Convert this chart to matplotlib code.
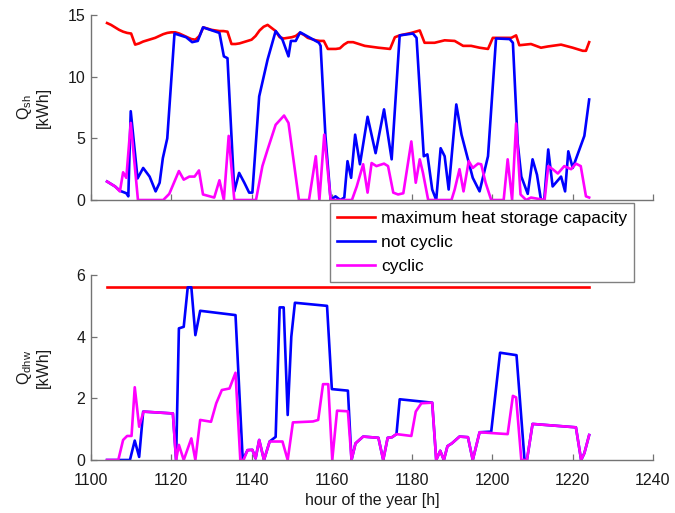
import matplotlib
matplotlib.use("Agg")
import matplotlib.pyplot as plt

plt.rcParams["font.family"] = ["Liberation Sans", "DejaVu Sans"]
plt.rcParams["mathtext.default"] = "regular"

# ---- space heating demand Q_sh [kWh] ----
sh_cap_hours = [1104, 1105, 1106, 1107, 1108, 1109, 1110, 1111, 1112, 1113, 1114, 1115,
                1116, 1117, 1118, 1119, 1120, 1121, 1122, 1123, 1124, 1125, 1126, 1127,
                1128, 1129, 1130, 1131, 1132, 1133, 1134, 1135, 1136, 1137, 1138, 1139,
                1140, 1141, 1142, 1143, 1144, 1145, 1146, 1147, 1148, 1149, 1150, 1151,
                1152, 1153, 1154, 1155, 1156, 1157, 1158, 1159, 1160, 1161, 1162, 1163,
                1164, 1165.3, 1168.2, 1171.6, 1174.5, 1175.7, 1176.9, 1179.8, 1181.9,
                1183.1, 1185.6, 1188.1, 1190.6, 1192.7, 1194.7, 1196.8, 1198.9, 1200.1,
                1204.7, 1205.9, 1206.7, 1209.6, 1212.1, 1213.8, 1217.1, 1220.0, 1222.5,
                1223.3, 1224.1]
sh_cap = [14.35, 14.2, 14.0, 13.8, 13.65, 13.55, 13.5, 12.6, 12.7, 12.85, 12.95, 13.05,
          13.15, 13.3, 13.45, 13.55, 13.6, 13.6, 13.5, 13.35, 13.2, 13.05, 13.0, 13.3,
          14.0, 13.9, 13.8, 13.75, 13.7, 13.7, 13.65, 12.65, 12.65, 12.7, 12.8, 12.9,
          13.0, 13.3, 13.75, 14.05, 14.2, 13.95, 13.7, 13.2, 13.1, 13.15, 13.2, 13.3,
          13.55, 13.4, 13.15, 13.05, 12.95, 12.9, 12.9, 12.25, 12.25, 12.25, 12.3, 12.6,
          12.8, 12.8, 12.5, 12.35, 12.25, 13.2, 13.35, 13.55, 13.75,
          12.75, 12.75, 12.95, 12.9, 12.5, 12.5, 12.35, 12.25, 13.15,
          13.15, 13.35, 12.55, 12.65, 12.35, 12.45, 12.6, 12.35, 12.1,
          12.1, 12.8]

sh_nc_hours = [1104, 1106, 1107.2, 1108.8, 1109.3, 1109.9, 1111.6, 1113, 1114.6, 1116.1,
               1117.1, 1117.9, 1119, 1120.8, 1123.7, 1125.2, 1126.6, 1127.9, 1132, 1133.1,
               1134, 1135.7, 1136.9, 1138.2, 1139.4, 1140.2, 1141.9, 1144, 1146, 1147.7,
               1149.2, 1149.8, 1151, 1152.1, 1156.8, 1157.2, 1158.4, 1159.7, 1160.9,
               1162.1, 1163.1, 1163.9, 1164.8, 1165.8, 1167, 1168.9, 1170.9, 1173,
               1174.9, 1176.9, 1180.2, 1181.1, 1182.9, 1183.8, 1185, 1186, 1187.1,
               1188.1, 1189.1, 1191, 1192.3, 1193.9, 1195.1, 1196.8, 1198.9, 1200.9,
               1204.3, 1205.1, 1206.3, 1207.2, 1208.8, 1210, 1211.1, 1212.1, 1212.9,
               1213.9, 1215, 1217.1, 1218.1, 1218.9, 1220, 1222.9, 1224.1]
sh_nc = [1.5, 1.1, 0.75, 0.55, 0.3, 7.2, 1.75, 2.6, 1.9, 0.7,
         1.4, 3.4, 5.0, 13.5, 13.2, 12.8, 12.9, 14.0, 13.55, 11.65,
         11.5, 0.7, 2.2, 1.4, 0.6, 0.6, 8.4, 11.4, 13.7, 13.0,
         11.65, 12.9, 12.9, 13.6, 12.75, 12.5, 5.2, 0.0, 0.3,
         0.0, 0.2, 3.15, 1.8, 5.3, 2.9, 6.75, 3.8, 7.35,
         3.3, 13.35, 13.5, 13.15, 3.55, 3.7, 0.85, 0.0, 4.2,
         3.55, 0.85, 7.75, 5.3, 3.3, 1.8, 0.7, 3.55, 13.1,
         13.05, 12.75, 4.6, 1.9, 0.5, 3.3, 2.05, 0.0, 0.0,
         4.1, 1.1, 1.9, 0.7, 3.95, 2.6, 5.2, 8.15]

sh_cy_hours = [1104, 1106, 1107.2, 1108, 1108.8, 1109.9, 1111.7, 1118, 1119.5, 1121.9,
               1123.1, 1124.5, 1125.8, 1126.9, 1127.9, 1130.7, 1132, 1133.1, 1134.3,
               1135.7, 1141.1, 1142.7, 1144, 1146, 1148.1, 1149.2, 1151.8, 1154.3, 1156,
               1156.9, 1158.1, 1159.7, 1165, 1166.2, 1167.8, 1168.9, 1169.9, 1171.1,
               1173, 1174, 1175.3, 1176.5, 1177.8, 1179.8, 1180.9, 1181.9, 1182.7, 1184,
               1189.8, 1190.6, 1191.8, 1192.8, 1194.1, 1195.1, 1196.4, 1197.2, 1198.3,
               1199.7, 1202.8, 1203.8, 1204.9, 1205.9, 1207, 1208.4, 1209.6, 1213,
               1213.9, 1215, 1216.3, 1217.9, 1219.6, 1220.8, 1222, 1223.3, 1224.1]
sh_cy = [1.5, 1.1, 0.7, 2.25, 1.8, 6.25, 0.0, 0.0, 0.5, 2.35,
         1.65, 1.9, 1.9, 2.4, 0.45, 0.2, 1.6, 0.0, 5.2,
         0.0, 0.0, 2.75, 4.1, 6.1, 6.85, 6.25, 0.0, 0.0, 3.55,
         0.0, 5.3, 0.0, 0.0, 1.1, 2.9, 0.6, 3.0, 2.75,
         2.95, 2.75, 0.6, 0.45, 0.55, 4.75, 1.4, 3.3, 2.2, 0.0,
         0.0, 0.85, 2.5, 0.7, 3.15, 2.6, 2.95, 2.9, 1.4,
         0.0, 0.0, 3.3, 0.0, 6.2, 0.45, 0.0, 0.2, 0.0,
         2.75, 2.5, 2.15, 2.75, 2.5, 2.95, 2.75, 0.3, 0.2]

# ---- domestic hot water demand Q_dhw [kWh] ----
dhw_cap_hours = [1104, 1224]
dhw_cap = [5.6, 5.6]

dhw_nc_hours = [1104, 1109.7, 1110.9, 1112, 1113, 1120.4, 1121.2, 1121.9, 1123.1, 1124.1,
                1125, 1126, 1127.2, 1136, 1137.8, 1139, 1140.2, 1141, 1141.9, 1143.1,
                1144.5, 1146, 1147, 1148, 1149, 1149.9, 1150.8, 1158.8, 1160, 1164,
                1164.9, 1165.9, 1167.8, 1171.6, 1172.8, 1173.9, 1175, 1176.1, 1176.9,
                1185, 1186, 1187, 1187.9, 1188.8, 1189.9, 1191.8, 1193.9, 1195.1, 1196.8,
                1199.7, 1201.9, 1206, 1208, 1208.6, 1210, 1220.8, 1222.1, 1222.9, 1224.1]
dhw_nc = [0.0, 0.0, 0.63, 0.1, 1.57, 1.51, 0.0, 4.27, 4.32, 5.6,
          5.6, 4.05, 4.84, 4.7, 0.0, 0.32, 0.33, 0.05, 0.65, 0.0,
          0.6, 0.75, 4.95, 4.95, 1.46, 4.0, 5.1, 5.0, 2.3, 2.25,
          0.0, 0.54, 0.76, 0.72, 0.0, 0.72, 0.74, 0.84, 1.97,
          1.86, 0.0, 0.3, 0.0, 0.45, 0.54, 0.76, 0.74, 0.0, 0.9,
          0.92, 3.48, 3.4, 0.0, 0.0, 1.17, 1.06, 0.0, 0.22, 0.81]

dhw_cy_hours = [1104, 1106.8, 1108, 1109, 1110.1, 1110.9, 1112, 1113.1, 1120.4, 1121.2,
                1121.9, 1123.1, 1125, 1126, 1127.2, 1129.9, 1131.2, 1132.6, 1134.5, 1136,
                1137.2, 1138, 1139, 1140.2, 1141, 1141.9, 1143.1, 1144.5, 1147.7, 1149,
                1150.3, 1155.3, 1156.6, 1157.8, 1159.1, 1160.1, 1161.3, 1164, 1164.9,
                1165.9, 1167.8, 1171.6, 1172.8, 1173.9, 1175, 1176.1, 1179.8, 1180.9,
                1182.3, 1185, 1186, 1187, 1187.9, 1188.8, 1189.9, 1191.8, 1193.9, 1195.1,
                1196.8, 1203.8, 1205.1, 1205.9, 1207.2, 1208.6, 1210, 1220.8, 1222.1,
                1222.9, 1224.1]
dhw_cy = [0.0, 0.0, 0.65, 0.78, 0.78, 2.36, 1.08, 1.57, 1.51, 0.0,
          0.49, 0.0, 0.7, 0.0, 1.3, 1.24, 1.84, 2.27, 2.32, 2.83,
          0.0, 0.0, 0.32, 0.33, 0.05, 0.65, 0.0, 0.6, 0.6, 0.0,
          1.22, 1.25, 1.3, 2.46, 2.46, 0.0, 1.6, 1.58, 0.0,
          0.54, 0.76, 0.72, 0.0, 0.72, 0.74, 0.84, 0.78, 1.57,
          1.84, 1.86, 0.0, 0.3, 0.0, 0.45, 0.54, 0.76, 0.74, 0.0,
          0.9, 0.84, 2.08, 2.03, 0.0, 0.0, 1.17, 1.06, 0.0,
          0.22, 0.81]

x_ticks = [1100, 1120, 1140, 1160, 1180, 1200, 1220, 1240]
sh_ticks = [0, 5, 10, 15]
dhw_ticks = [0, 2, 4, 6]
series_names = ["maximum heat storage capacity", "not cyclic", "cyclic"]
colors = ["#ff0000", "#0000ff", "#ff00ff"]

FS = 11.5
LEG_FS = 12.5
AXIS_C = "0.45"
LW = 1.9

fig = plt.figure(figsize=(6.75, 5.13), dpi=100)
ax1 = fig.add_axes([0.1348, 0.6101, 0.8326, 0.3606])
ax2 = fig.add_axes([0.1348, 0.1033, 0.8326, 0.3606])


def style(ax, yticks, show_xlabels):
    ax.set_xlim(x_ticks[0], x_ticks[-1])
    ax.set_ylim(yticks[0], yticks[-1])
    ax.set_xticks(x_ticks)
    ax.set_yticks(yticks)
    for side in ("top", "right"):
        ax.spines[side].set_visible(False)
    for side in ("left", "bottom"):
        ax.spines[side].set_color(AXIS_C)
        ax.spines[side].set_linewidth(1.0)
    ax.tick_params(direction="in", length=4, width=0.9, color=AXIS_C,
                   labelsize=FS, labelcolor="0.1", pad=4)
    ax.tick_params(axis="x", pad=9)
    if not show_xlabels:
        ax.tick_params(axis="x", labelbottom=False)


l1, = ax1.plot(sh_cap_hours, sh_cap, color=colors[0], lw=LW)
l2, = ax1.plot(sh_nc_hours, sh_nc, color=colors[1], lw=LW)
l3, = ax1.plot(sh_cy_hours, sh_cy, color=colors[2], lw=LW)
style(ax1, sh_ticks, False)

ax2.plot(dhw_cap_hours, dhw_cap, color=colors[0], lw=LW)
ax2.plot(dhw_nc_hours, dhw_nc, color=colors[1], lw=LW)
ax2.plot(dhw_cy_hours, dhw_cy, color=colors[2], lw=LW)
style(ax2, dhw_ticks, True)

ax1.text(-0.103, 0.5, "Q$_{sh}$\n[kWh]", transform=ax1.transAxes, rotation=90,
         ha="center", va="center", fontsize=FS, color="0.1", multialignment="center")
ax2.text(-0.103, 0.5, "Q$_{dhw}$\n[kWh]", transform=ax2.transAxes, rotation=90,
         ha="center", va="center", fontsize=FS, color="0.1", multialignment="center")
ax2.set_xlabel("hour of the year [h]", fontsize=FS, color="0.1", labelpad=4)

leg = fig.legend([l1, l2, l3], series_names, loc="upper left",
                 bbox_to_anchor=(0.489, 0.604), fontsize=LEG_FS, frameon=True,
                 fancybox=False, framealpha=1.0, edgecolor="0.5",
                 handlelength=2.15, handletextpad=0.35, labelspacing=0.53,
                 borderpad=0.42, borderaxespad=0.0)
leg.get_frame().set_linewidth(1.0)

fig.savefig("out.png", dpi=100)
